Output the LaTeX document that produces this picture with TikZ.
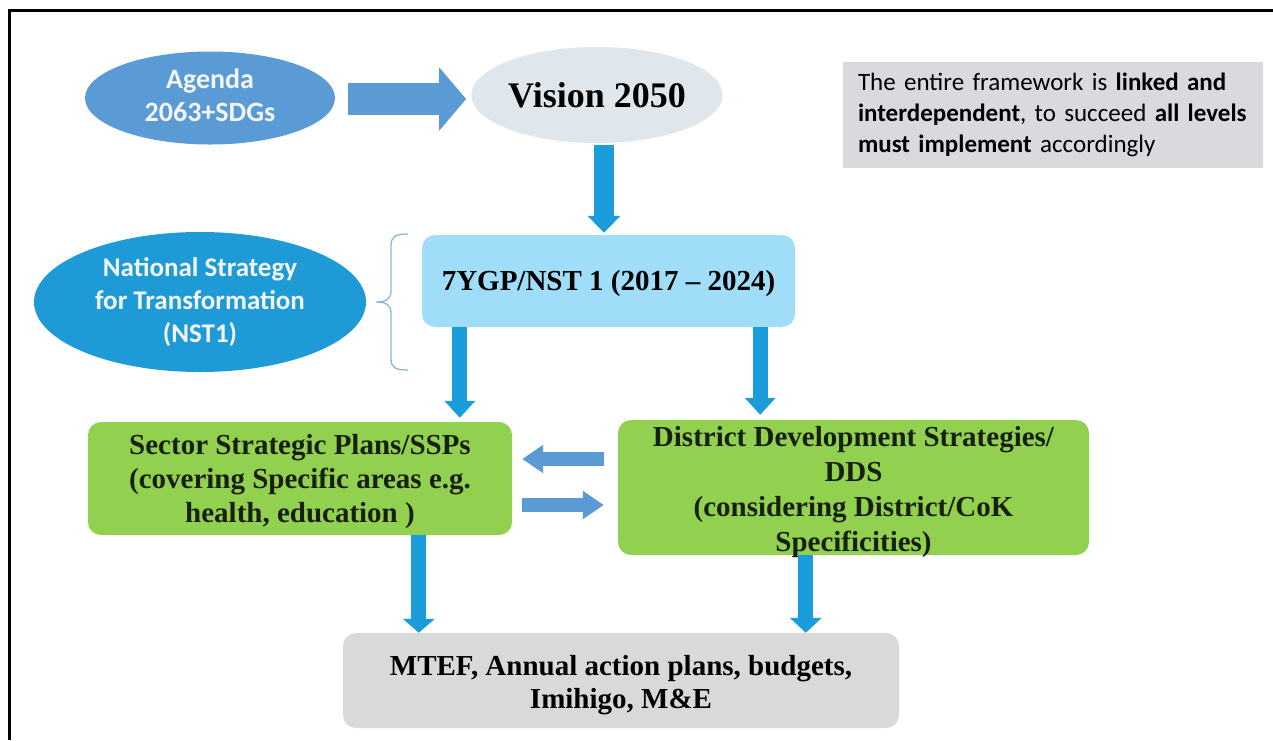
\documentclass[tikz,border=0pt]{standalone}
\usepackage{fontspec}
\setmainfont{Liberation Serif}
\newfontfamily\calibri{Carlito}
\usetikzlibrary{shapes.geometric,arrows.meta}
\definecolor{agendablue}{HTML}{5B9BD5}
\definecolor{nstblue}{HTML}{1E9AD6}
\definecolor{visiongray}{HTML}{DFE7EC}
\definecolor{ygpblue}{HTML}{9FDDF8}
\definecolor{arrowblue}{HTML}{1B9DDB}
\definecolor{planGreen}{HTML}{92D050}
\definecolor{mtefgray}{HTML}{D9D9D9}
\definecolor{notegray}{HTML}{D9D9DE}
\definecolor{bracecol}{HTML}{8DB6D2}
\definecolor{greentext}{HTML}{17200F}
\definecolor{lighttext}{HTML}{F2F6FB}
\begin{document}
\begin{tikzpicture}[x=1pt,y=-1pt,
  ovalnode/.style={ellipse,inner sep=0pt,align=center},
  boxnode/.style={rectangle,rounded corners=13pt,inner sep=0pt,align=center},
  labeltext/.style={inner sep=0pt,align=center},
  serifbig/.style={font=\bfseries\fontsize{29}{34}\selectfont},
  bigarrow/.style={draw=agendablue,line width=32pt,-{Triangle[length=27pt,width=62pt]}},
  downarrow/.style={draw=arrowblue,line width=15pt,-{Triangle[length=17pt,width=30pt]}},
  sidearrow/.style={draw=agendablue,line width=14pt,-{Triangle[length=21pt,width=27pt]}}
]
\useasboundingbox (0,0) rectangle (1273,740);
\fill[white] (0,0) rectangle (1273,740);
\draw[line width=3.5pt] (9.5,740) -- (9.5,10.5) -- (1273,10.5);

% ovals
\node[ovalnode,fill=agendablue,minimum width=250pt,minimum height=93pt]
  (agenda) at (210,98) {};
\node[labeltext,text=lighttext,font=\calibri\bfseries\fontsize{28}{33}\selectfont]
  (agendatext) at (210,95) {Agenda\\2063+SDGs};
\node[ovalnode,fill=visiongray,minimum width=250pt,minimum height=96pt,
  font=\bfseries\fontsize{36}{40}\selectfont]
  (vision) at (597,95) {Vision 2050};
\node[ovalnode,fill=nstblue,minimum width=332pt,minimum height=140pt,
  text=lighttext,font=\calibri\bfseries\fontsize{27}{33}\selectfont]
  (nst) at (200,302) {National Strategy\\for Transformation\\(NST1)};

% boxes
\node[boxnode,fill=ygpblue,minimum width=373pt,minimum height=92pt]
  (ygp) at (608.5,281) {};
\node[labeltext,serifbig] (ygptext) at (608.5,284) {7YGP/NST 1 (2017 -- 2024)};
\node[boxnode,fill=planGreen,minimum width=424pt,minimum height=113pt]
  (ssp) at (300,478.5) {};
\node[labeltext,text=greentext,font=\bfseries\fontsize{29}{34}\selectfont]
  (ssptext) at (300,482) {Sector Strategic Plans/SSPs\\(covering Specific areas e.g.\\health, education )};
\node[boxnode,fill=planGreen,minimum width=471pt,minimum height=135pt]
  (dds) at (853.5,487.5) {};
\node[labeltext,text=greentext,font=\bfseries\fontsize{29}{35}\selectfont]
  (ddstext) at (853.5,492.5) {District Development Strategies/\\DDS\\(considering District/CoK\\Specificities)};
\node[boxnode,fill=mtefgray,minimum width=556pt,minimum height=95pt]
  (mtef) at (621,680.5) {};
\node[labeltext,font=\bfseries\fontsize{29}{33}\selectfont]
  (mteftext) at (621,685) {MTEF, Annual action plans, budgets,\\Imihigo, M\&E};
\node[rectangle,fill=notegray,minimum width=420pt,minimum height=106pt,
  inner xsep=15pt,inner ysep=0pt,text width=390pt,align=left,
  font=\calibri\fontsize{25}{31}\selectfont]
  (note) at (1053,115) {The entire framework is \textbf{linked and}\\\textbf{interdependent}, to succeed \textbf{all levels}\\\textbf{must implement} accordingly};

% brace
\draw[bracecol,line width=1.3pt]
  (408,234) .. controls (396,234) and (391,236) .. (391,246) -- (391,291)
  .. controls (391,299) and (386,302) .. (376,302)
  .. controls (386,302) and (391,305) .. (391,313) -- (391,359)
  .. controls (391,368) and (396,370) .. (408,370);

% arrows
\draw[bigarrow,shorten <=13pt,shorten >=5pt]
  ([yshift=-1pt]agenda.east) -- ([yshift=-1pt]agenda.east -| vision.west);
\draw[downarrow,line width=20pt,-{Triangle[length=17pt,width=32pt]},shorten <=2pt,shorten >=2pt]
  ([xshift=7pt]vision.south) -- ([xshift=7pt]vision.south |- ygp.north);
\draw[downarrow,shorten >=4pt]
  ([xshift=38pt]ygp.south west) -- ([xshift=38pt]ygp.south west |- ssp.north);
\draw[downarrow,shorten >=5pt]
  ([xshift=-35pt]ygp.south east) -- ([xshift=-35pt]ygp.south east |- dds.north);
\draw[sidearrow,shorten <=14pt,shorten >=10pt]
  ([yshift=28.5pt]dds.west) -- ([yshift=28.5pt]dds.west -| ssp.east);
\draw[sidearrow,shorten <=10pt,shorten >=14pt]
  ([yshift=-17.5pt]dds.west -| ssp.east) -- ([yshift=-17.5pt]dds.west);
\draw[downarrow,-{Triangle[length=14pt,width=31pt]}]
  ([xshift=331pt]ssp.south west) -- ([xshift=331pt]ssp.south west |- mtef.north);
\draw[downarrow,-{Triangle[length=15pt,width=31pt]}]
  ([xshift=188pt]dds.south west) -- ([xshift=188pt]dds.south west |- mtef.north);
\end{tikzpicture}
\end{document}
